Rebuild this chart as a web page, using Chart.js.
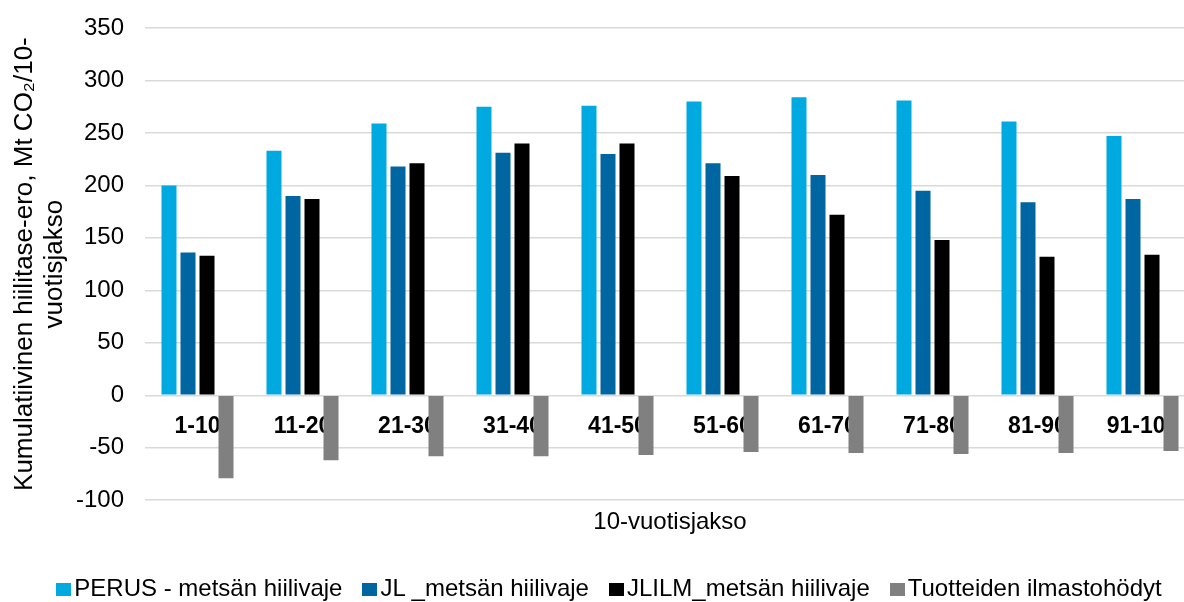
<!DOCTYPE html>
<html>
<head>
<meta charset="utf-8">
<script src="https://cdn.jsdelivr.net/npm/chart.js@4"></script>
<style>
  html, body { margin: 0; padding: 0; background: #fff; overflow: hidden; }
  #wrap { width: 1184px; height: 602px; overflow: hidden; position: relative; }
  #box { position: absolute; left: 0; top: 0; width: 1220px; height: 602px; }
  #legend {
    position: absolute; left: 0; width: 1218px; top: 573px;
    display: flex; justify-content: center; align-items: baseline;
    font-family: "Liberation Sans", Arial, sans-serif; font-size: 24px; color: #000;
    white-space: nowrap; line-height: 30px;
  }
  .item { display: flex; align-items: baseline; margin: 0 10px; }
  .swatch { display: inline-block; width: 15px; height: 13px; margin-right: 3px; }
</style>
</head>
<body>
<div id="wrap">
  <div id="box"><canvas id="c"></canvas></div>
  <div id="legend"></div>
</div>
<script>
// 10-year periods
const categories = ['1-10', '11-20', '21-30', '31-40', '41-50', '51-60', '61-70', '71-80', '81-90', '91-100'];

// Cumulative carbon balance difference, Mt CO2 per period
const perus = [200, 233, 259, 275, 276, 280, 284, 281, 261, 247];
const jl = [136, 190, 218, 231, 230, 221, 210, 195, 184, 187];
const jlilm = [133, 187, 221, 240, 240, 209, 172, 148, 132, 134];
const tuotteet = [-79, -62, -58, -58, -57, -54, -55, -56, -55, -53];

const seriesNames = ['PERUS - metsän hiilivaje', 'JL _metsän hiilivaje', 'JLILM_metsän hiilivaje', 'Tuotteiden ilmastohödyt'];
const yTicks = [-100, -50, 0, 50, 100, 150, 200, 250, 300, 350];

const colors = ['#00A9E0', '#0066A1', '#000000', '#808080'];
const FONT = 'Liberation Sans, Arial, sans-serif';

// legend as plain HTML under the chart
const legend = document.getElementById('legend');
seriesNames.forEach((name, i) => {
  const item = document.createElement('span');
  item.className = 'item';
  const sw = document.createElement('span');
  sw.className = 'swatch';
  sw.style.background = colors[i];
  const txt = document.createElement('span');
  txt.textContent = name;
  item.appendChild(sw);
  item.appendChild(txt);
  legend.appendChild(item);
});

const PAD_LEFT = 8;
const PLOT_LEFT = 145;

new Chart(document.getElementById('c'), {
  type: 'bar',
  data: {
    labels: categories,
    datasets: [perus, jl, jlilm, tuotteet].map((d, i) => ({
      label: seriesNames[i],
      data: d,
      backgroundColor: colors[i],
      borderWidth: 0,
      categoryPercentage: 0.724,
      barPercentage: 0.79
    }))
  },
  options: {
    responsive: true,
    maintainAspectRatio: false,
    animation: false,
    layout: { padding: { left: PAD_LEFT, right: 25, top: 28, bottom: 65 } },
    plugins: {
      tooltip: { enabled: false },
      legend: { display: false }
    },
    scales: {
      x: {
        type: 'category',
        position: { y: 0 },
        grid: { display: false, drawTicks: false },
        border: { display: false },
        ticks: {
          color: '#000',
          padding: 18,
          maxRotation: 0,
          autoSkip: false,
          font: { family: FONT, size: 23, weight: 'bold' }
        }
      },
      x2: {
        type: 'category',
        labels: categories,
        position: 'bottom',
        grid: { display: false, drawTicks: false },
        border: { display: false },
        ticks: { display: false },
        title: {
          display: true,
          text: '10-vuotisjakso',
          color: '#000',
          padding: { top: 8, bottom: 0 },
          font: { family: FONT, size: 24, lineHeight: 1.2 }
        }
      },
      y: {
        min: -100,
        max: 350,
        afterBuildTicks: (axis) => { axis.ticks = yTicks.map(v => ({ value: v })); },
        afterFit: (axis) => {
          axis.width = PLOT_LEFT - PAD_LEFT;
          axis.paddingTop = 0;
          axis.paddingBottom = 0;
        },
        grid: { color: '#D9D9D9', lineWidth: 1.5, drawTicks: false },
        border: { display: false },
        ticks: {
          color: '#000',
          padding: 21,
          font: { family: FONT, size: 24 }
        },
        title: {
          display: true,
          text: ['Kumulatiivinen hiilitase-ero, Mt CO₂/10-', 'vuotisjakso'],
          color: '#000',
          padding: { top: 2, bottom: 6 },
          font: { family: FONT, size: 26, lineHeight: 1.15 }
        }
      }
    }
  }
});
</script>
</body>
</html>
